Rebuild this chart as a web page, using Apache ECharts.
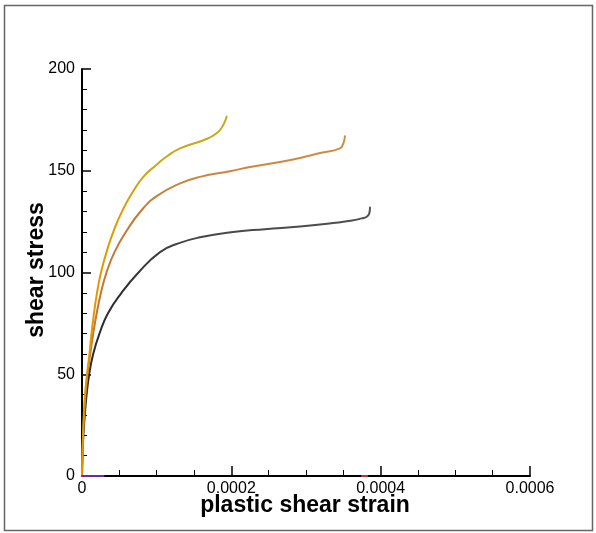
<!DOCTYPE html>
<html>
<head>
<meta charset="utf-8">
<script src="https://cdn.jsdelivr.net/npm/echarts@6/dist/echarts.min.js"></script>
<style>
html,body{margin:0;padding:0;background:#fff;}
#main{width:596px;height:533px;}
</style>
</head>
<body>
<div id="main"></div>
<script>
// strain (x) / stress (y) pairs
const blackCurve = [[0,0],[6.7e-7,10],[1.87e-6,20],[3.75e-6,30],[6.16e-6,40],[9.64e-6,50],[1.5e-5,60],[2.34e-5,70],[3.48e-5,80],[5.29e-5,90],[7.57e-5,100],[1.045e-4,110],[1.29e-4,114.3],[1.58e-4,117.3],[1.996e-4,119.8],[2.451e-4,121.3],[2.92e-4,122.6],[3.362e-4,124.3],[3.616e-4,125.5],[3.746e-4,126.6],[3.813e-4,127.4],[3.848e-4,129.1],[3.857e-4,132]];
const brownCurve = [[0,0],[5.4e-7,10],[1.47e-6,20],[2.81e-6,30],[4.69e-6,40],[7.37e-6,50],[1.11e-5,60],[1.5e-5,70],[1.97e-5,80],[2.54e-5,90],[3.28e-5,100],[4.35e-5,110],[5.89e-5,120],[8.0e-5,130.7],[1.0e-4,137.5],[1.313e-4,143.8],[1.58e-4,147],[1.996e-4,149.9],[2.25e-4,151.8],[2.652e-4,154.3],[2.92e-4,156.3],[3.188e-4,158.7],[3.455e-4,161],[3.5e-4,163.5],[3.522e-4,167]];
const yellowCurve = [[0,0],[5.4e-7,10],[1.34e-6,20],[2.41e-6,30],[4.02e-6,40],[6.7e-6,50],[1.0e-5,60],[1.27e-5,70],[1.61e-5,80],[2.01e-5,90],[2.54e-5,100],[3.28e-5,110],[4.29e-5,121],[5.49e-5,131],[6.87e-5,140],[8.21e-5,147],[1.0e-4,153],[1.134e-4,157],[1.313e-4,161],[1.625e-4,165],[1.804e-4,168.4],[1.892e-4,172.5],[1.938e-4,176.6]];
const purpleSeg = [[0,0],[2.9e-5,0]];
const redSeg = [[3.75e-4,0],[3.82e-4,0]];
const xTicks = ['0','0.0002','0.0004','0.0006'];
const yTicks = ['0','50','100','150','200'];
const xTitle = 'plastic shear strain';
const yTitle = 'shear stress';

const chart = echarts.init(document.getElementById('main'), null, {renderer:'canvas'});
const FONT = '"Liberation Sans", Arial, sans-serif';
function grad(stops){
  return {type:'linear',x:0,y:1,x2:0,y2:0,colorStops:stops.map(s=>({offset:s[0],color:s[1]}))};
}
function lineSeries(data,color,z){
  return {type:'line',data:data,showSymbol:false,symbol:'none',smooth:0.5,
    lineStyle:{width:2,color:color,cap:'round',join:'round'},z:z||3,animation:false};
}
chart.setOption({
  animation:false,
  backgroundColor:'#fff',
  grid:{left:82,right:66,top:69,bottom:57,containLabel:false},
  xAxis:{type:'value',min:0,max:0.0006,interval:0.0002,
    axisLine:{lineStyle:{color:'#000',width:2}},
    axisTick:{show:true,inside:true,length:10,lineStyle:{color:'#000',width:1.5}},
    minorTick:{show:true,splitNumber:4,length:6,lineStyle:{color:'#000',width:1}},
    splitLine:{show:false},
    axisLabel:{margin:5,fontSize:16,color:'#000',fontFamily:FONT,
      formatter:(v)=>{const i=Math.round(v/0.0002);return xTicks[i]!==undefined?xTicks[i]:'';}}
  },
  yAxis:{type:'value',min:0,max:200,interval:50,
    axisLine:{show:true,lineStyle:{color:'#000',width:2}},
    axisTick:{show:true,inside:true,length:9,lineStyle:{color:'#000',width:1.5}},
    minorTick:{show:true,splitNumber:5,length:5,lineStyle:{color:'#000',width:1}},
    splitLine:{show:false},
    axisLabel:{margin:7,fontSize:16,color:'#000',fontFamily:FONT,
      formatter:(v)=>{const i=Math.round(v/50);return yTicks[i]!==undefined?yTicks[i]:'';}}
  },
  series:[
    lineSeries(blackCurve,grad([[0,'#222222'],[0.7,'#303030'],[1,'#555555']]),3),
    lineSeries(brownCurve,grad([[0,'#c0702c'],[0.75,'#c47a34'],[1,'#d09048']]),4),
    lineSeries(yellowCurve,grad([[0,'#e89400'],[0.72,'#e09a00'],[0.85,'#c8a818'],[1,'#c4aa20']]),5),
    lineSeries(purpleSeg,'#6a2aa0',6),
    lineSeries(redSeg,'#c03030',6)
  ],
  graphic:[
    {type:'rect',shape:{x:4.5,y:5.5,width:588,height:525},style:{fill:'none',stroke:'#666',lineWidth:1.5},z:-1},
    {type:'text',x:305,y:506,style:{text:xTitle,font:'bold 23px "Liberation Sans", Arial, sans-serif',fill:'#000',textAlign:'center',textVerticalAlign:'middle'}},
    {type:'text',x:37,y:270,rotation:Math.PI/2,style:{text:yTitle,font:'bold 23px "Liberation Sans", Arial, sans-serif',fill:'#000',textAlign:'center',textVerticalAlign:'middle'}}
  ]
});
</script>
</body>
</html>
